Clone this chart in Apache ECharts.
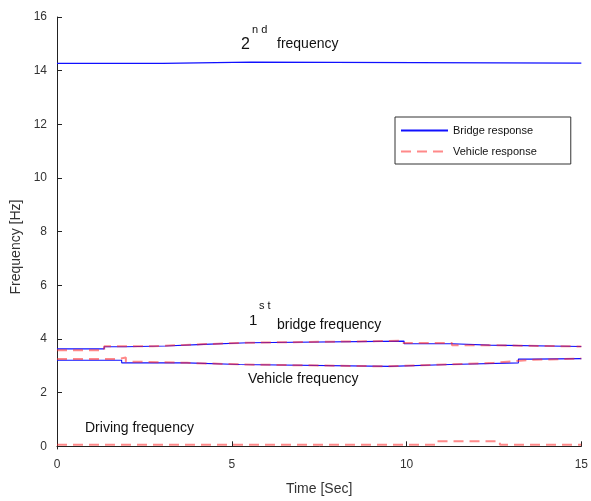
<!DOCTYPE html>
<html>
<head>
<meta charset="utf-8">
<script src="https://cdn.jsdelivr.net/npm/echarts@6/dist/echarts.min.js"></script>
<style>html,body{margin:0;padding:0;background:#fff}#c{width:591px;height:501px}</style>
</head>
<body>
<div id="c"></div>
<script>
// ---- data (step functions: value holds from time[i] to time[i+1]) ----
var xTicks = [0, 5, 10, 15];
var yTicks = [0, 2, 4, 6, 8, 10, 12, 14, 16];

// Bridge response (blue)
var bridge2ndT = [0, 3.03, 5.55, 15];
var bridge2ndF = [14.27, 14.32, 14.28, 14.28];
var bridge1stT = [0, 1.35, 1.95, 3.1, 4.2, 5.47, 9.93, 11.3, 12.37, 15];
var bridge1stF = [3.63, 3.71, 3.74, 3.80, 3.86, 3.92, 3.82, 3.77, 3.72, 3.72];
var bridgeVehT = [0, 1.85, 3.71, 5.22, 9.52, 11.24, 13.2, 13.6, 15];
var bridgeVehF = [3.21, 3.11, 3.05, 2.98, 3.05, 3.11, 3.25, 3.27, 3.27];

// Vehicle response (red dashed)
var veh1stT = [0, 1.35, 2.75, 4.1, 5.4, 9.8, 11.3, 12.35, 15];
var veh1stF = [3.58, 3.73, 3.80, 3.86, 3.93, 3.85, 3.77, 3.72, 3.72];
var vehVehT = [0, 1.72, 1.97, 2.4, 3.72, 5.3, 9.45, 11.2, 12.5, 13.1, 13.5, 15];
var vehVehF = [3.25, 3.31, 3.15, 3.11, 3.05, 2.98, 3.05, 3.11, 3.17, 3.22, 3.27, 3.27];
var vehDrvT = [0, 10.82, 12.67, 15];
var vehDrvF = [0.06, 0.19, 0.06, 0.06];

function pairs(t, f) { return t.map(function (x, i) { return [x, f[i]]; }); }

var blueStyle = { color: '#1010ff', width: 1.1 };
var redStyle = { color: 'rgba(255,40,40,0.55)', width: 2, type: [10, 6] };

function blue(t, f) {
  return { name: 'Bridge response', type: 'line', step: 'end', symbol: 'none',
    data: pairs(t, f), lineStyle: blueStyle, itemStyle: { color: blueStyle.color }, silent: true, animation: false };
}
function red(t, f) {
  return { name: 'Vehicle response', type: 'line', step: 'end', symbol: 'none',
    data: pairs(t, f), lineStyle: redStyle, itemStyle: { color: redStyle.color }, silent: true, animation: false };
}

var chart = echarts.init(document.getElementById('c'));
var font = 'Liberation Sans, Arial, sans-serif';
var txt = function (l, y, s, size) {
  return { type: 'text', x: l, y: y, silent: true,
    style: { text: s, font: size + 'px ' + font, fill: '#111', align: 'left', verticalAlign: 'middle' } };
};
chart.setOption({
  animation: false,
  textStyle: { fontFamily: font },
  grid: { left: 57, right: 5, top: 17, bottom: 52, containLabel: false },
  xAxis: {
    type: 'value', min: 0, max: 15, interval: 5,
    name: 'Time [Sec]', nameLocation: 'middle', nameGap: 33,
    nameTextStyle: { fontSize: 14, color: '#333' },
    axisLine: { lineStyle: { color: '#222' } },
    axisTick: { inside: true, length: 5, lineStyle: { color: '#222' } },
    axisLabel: { color: '#333', fontSize: 12, margin: 10 },
    splitLine: { show: false }
  },
  yAxis: {
    type: 'value', min: -0.1, max: 16,
    name: 'Frequency [Hz]', nameLocation: 'middle', nameGap: 32,
    nameTextStyle: { fontSize: 14, color: '#333', padding: [0, 28, 0, 0] },
    axisLine: { show: true, lineStyle: { color: '#222' } },
    axisTick: { show: true, inside: true, length: 5, customValues: yTicks, lineStyle: { color: '#222' } },
    axisLabel: { color: '#333', fontSize: 12, margin: 10, customValues: yTicks },
    splitLine: { show: false }
  },
  legend: {
    orient: 'vertical', left: 395, top: 117,
    data: ['Bridge response', 'Vehicle response'],
    itemWidth: 47, itemHeight: 12, itemGap: 10,
    padding: [8, 34, 7, 5],
    borderColor: '#333', borderWidth: 1, backgroundColor: '#fff',
    itemStyle: { opacity: 0 },
    textStyle: { fontSize: 11, color: '#111' },
    selectedMode: false
  },
  series: [
    blue(bridge2ndT, bridge2ndF),
    blue(bridge1stT, bridge1stF),
    blue(bridgeVehT, bridgeVehF),
    red(veh1stT, veh1stF),
    red(vehVehT, vehVehF),
    red(vehDrvT, vehDrvF)
  ],
  graphic: [
    txt(241, 45, '2', 16),
    txt(252, 30, 'n d', 11),
    txt(277, 44, 'frequency', 14),
    txt(249, 321, '1', 15),
    txt(259, 306, 's t', 11),
    txt(277, 325, 'bridge frequency', 14),
    txt(248, 379, 'Vehicle frequency', 14),
    txt(85, 428, 'Driving frequency', 14)
  ]
});
</script>
</body>
</html>
